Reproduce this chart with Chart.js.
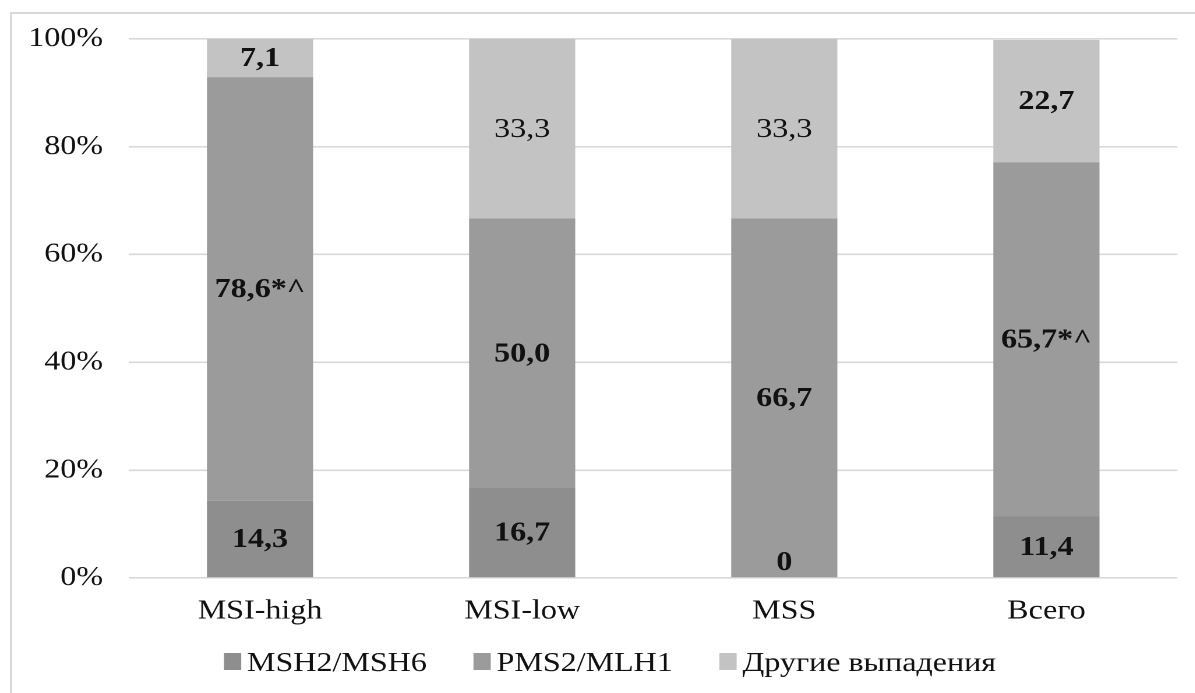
<!DOCTYPE html>
<html>
<head>
<meta charset="utf-8">
<script src="https://cdn.jsdelivr.net/npm/chart.js@4/dist/chart.umd.min.js"></script>
<style>
  html, body { margin: 0; padding: 0; background: #fff; overflow: hidden; width: 1195px; height: 693px; }
  #frame { position: absolute; left: 10px; top: 12px; width: 1300px; height: 800px;
           border-left: 2px solid #d9d9d9; border-top: 2px solid #d9d9d9; }
  #wrap { position: absolute; left: 0; top: 0; width: 1026px; height: 693px;
          transform: scaleX(1.165); transform-origin: 0 0; }
</style>
</head>
<body>
<div id="frame"></div>
<div id="wrap"><canvas id="c"></canvas></div>
<script>
// Groups along the x axis
const categories = ['MSI-high', 'MSI-low', 'MSS', 'Всего'];
// Series names
const seriesNames = ['MSH2/MSH6', 'PMS2/MLH1', 'Другие выпадения'];
// Shares, %
const msh2msh6 = [14.3, 16.7, 0, 11.4];
const pms2mlh1 = [78.6, 50.0, 66.7, 65.7];
const otherLoss = [7.1, 33.3, 33.3, 22.7];
// Significance marks appended to the PMS2/MLH1 labels
const pmsMarks = ['*^', '', '', '*^'];
// Y axis ticks, %
const yTicks = [0, 20, 40, 60, 80, 100];

const FONT = '"Liberation Serif", "Times New Roman", serif';
const FSIZE = 27.5;
const TEXT = '#111';
const colors = ['#8e8e8e', '#9b9b9b', '#c3c3c3'];
const seriesValues = [msh2msh6, pms2mlh1, otherLoss];
const seriesMarks = [null, pmsMarks, null];
// label weights per series / category
const labelWeights = [
  ['bold', 'bold', 'bold', 'bold'],
  ['bold', 'bold', 'bold', 'bold'],
  ['bold', 'normal', 'normal', 'bold']
];

function fmt(v) {
  return v === 0 ? '0' : v.toFixed(1).replace('.', ',');
}

// Value labels centred in each stacked segment
const segmentLabels = {
  id: 'segmentLabels',
  afterDatasetsDraw(chart) {
    const ctx = chart.ctx;
    ctx.save();
    ctx.fillStyle = TEXT;
    ctx.textAlign = 'center';
    ctx.textBaseline = 'middle';
    chart.data.datasets.forEach((ds, di) => {
      const meta = chart.getDatasetMeta(di);
      meta.data.forEach((bar, i) => {
        const v = ds.data[i];
        const marks = seriesMarks[di] ? seriesMarks[di][i] : '';
        const txt = fmt(v) + marks;
        const y = v === 0 ? bar.base - 15 : (bar.y + bar.base) / 2 + 1;
        ctx.font = labelWeights[di][i] + ' ' + FSIZE + 'px ' + FONT;
        ctx.fillText(txt, bar.x, y);
      });
    });
    ctx.restore();
  }
};

// Legend row below the axis
const legendRow = {
  id: 'legendRow',
  afterDraw(chart) {
    const ctx = chart.ctx;
    ctx.save();
    ctx.font = FSIZE + 'px ' + FONT;
    const box = 14.8, boxH = 17, gap = 5, spacing = 40;
    const items = chart.data.datasets.map(ds => ({
      label: ds.label, color: ds.backgroundColor, w: ctx.measureText(ds.label).width
    }));
    const total = items.reduce((s, it) => s + box + gap + it.w, 0) + spacing * (items.length - 1);
    let x = 523.6 - total / 2;
    const yBase = 671;
    items.forEach(it => {
      ctx.fillStyle = it.color;
      ctx.fillRect(x, yBase - 18, box, boxH);
      x += box + gap;
      ctx.fillStyle = TEXT;
      ctx.textAlign = 'left';
      ctx.textBaseline = 'alphabetic';
      ctx.fillText(it.label, x, yBase);
      x += it.w + spacing;
    });
    ctx.restore();
  }
};

new Chart(document.getElementById('c'), {
  type: 'bar',
  data: {
    labels: categories,
    datasets: seriesNames.map((name, k) => ({
      label: name,
      data: seriesValues[k],
      backgroundColor: colors[k],
      borderWidth: 0,
      barPercentage: 0.405,
      categoryPercentage: 1
    }))
  },
  options: {
    responsive: true,
    maintainAspectRatio: false,
    animation: false,
    devicePixelRatio: 2,
    layout: { padding: { left: 0, right: 15.3, top: 38, bottom: 65 } },
    plugins: { legend: { display: false }, tooltip: { enabled: false } },
    scales: {
      x: {
        stacked: true,
        grid: { display: false },
        border: { display: false },
        ticks: { color: TEXT, font: { family: FONT, size: FSIZE }, padding: 9, maxRotation: 0 },
        afterFit(s) { s.height = 50; }
      },
      y: {
        stacked: true,
        min: 0,
        max: 100,
        afterBuildTicks(s) { s.ticks = yTicks.map(v => ({ value: v })); },
        ticks: { color: TEXT, font: { family: FONT, size: FSIZE }, padding: 22.3, callback: v => v + '%' },
        grid: { color: '#d9d9d9', lineWidth: 1.6, drawTicks: false },
        border: { display: false },
        afterFit(s) { s.width = 110.7; }
      }
    }
  },
  plugins: [segmentLabels, legendRow]
});
</script>
</body>
</html>
